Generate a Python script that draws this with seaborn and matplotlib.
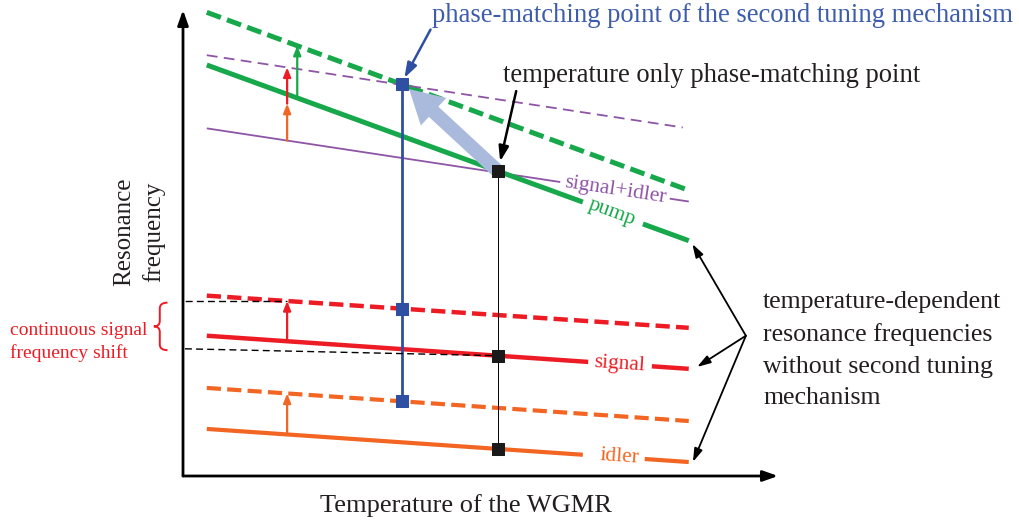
import numpy as np
import pandas as pd
import matplotlib
matplotlib.use("Agg")
import matplotlib.pyplot as plt
from matplotlib.patches import FancyArrowPatch, PathPatch
from matplotlib.path import Path
import seaborn as sns

# Schematic data (arbitrary units: temperature 0-100, frequency 0-100)
T_range = [4.0, 85.0]
pump = [88.2, 50.5]
pump_tuned = [99.5, 61.3]
sum_si = [74.6, 58.9]
sum_si_tuned = [90.3, 74.6]
signal = [30.1, 23.0]
signal_tuned = [38.7, 31.8]
idler = [10.1, 3.0]
idler_tuned = [18.9, 11.8]

T_tuned_pm = 36.8     # phase-matching temperature with second tuning
T_only_pm = 52.9      # temperature only phase-matching point
T_shift = 17.5        # where the shift arrows are drawn
T_shift_pump = 19.2

line_labels = ["signal+idler", "pump", "signal", "idler"]
label_T = [72.6, 72.1, 73.3, 73.3]
label_gap = [(63.4, 81.8), (67.2, 77.3), (68.1, 78.8), (67.2, 77.6)]

green = "#17a84b"
purple = "#8e55a6"
red = "#ed1c24"
orange = "#f26522"
blue = "#2e4fa2"
blue_text = "#3d5dab"
light_blue = "#a9badd"
ink = "#231f20"

sns.set_style("white")
plt.rcParams["font.family"] = ["Liberation Serif", "DejaVu Serif"]

fig = plt.figure(figsize=(10.19, 5.25), dpi=100)
ax = fig.add_axes([183 / 1019, 49 / 525, 595 / 1019, 466 / 525])
ax.set_xlim(0, 100)
ax.set_ylim(0, 100)
ax.axis("off")


def at(line, t):
    return np.interp(t, T_range, line)


def seg(x, y, **kw):
    sns.lineplot(x=x, y=y, ax=ax, estimator=None, sort=False, **kw)


# dashed (shifted) resonance lines
dashed = [
    (pump_tuned, T_range[1], green, 3.6, (0, (3.0, 1.3))),
    (sum_si_tuned, 84.0, purple, 1.3, (0, (6, 3.5))),
    (signal_tuned, T_range[1], red, 3.2, (0, (3.2, 1.4))),
    (idler_tuned, T_range[1], orange, 3.0, (0, (3.4, 1.5))),
]
for vals, t_end, col, lw, ls in dashed:
    df = pd.DataFrame({"T": [T_range[0], t_end], "f": [vals[0], at(vals, t_end)]})
    sns.lineplot(data=df, x="T", y="f", ax=ax, estimator=None, color=col, lw=lw, ls=ls,
                 dash_capstyle="butt")

# solid resonance lines, broken where the label sits
solid = [(sum_si, purple, 1.3), (pump, green, 3.6), (signal, red, 3.2), (idler, orange, 3.0)]
for (vals, col, lw), (g0, g1) in zip(solid, label_gap):
    for t0, t1 in [(T_range[0], g0), (g1, T_range[1])]:
        seg([t0, t1], [at(vals, t0), at(vals, t1)], color=col, lw=lw, solid_capstyle="butt")

# vertical guides through phase-matching points
tuned_lines = [pump_tuned, signal_tuned, idler_tuned]
only_lines = [pump, signal, idler]
yt = [at(l, T_tuned_pm) for l in tuned_lines]
yo = [at(l, T_only_pm) for l in only_lines]
seg([T_tuned_pm, T_tuned_pm], [max(yt), min(yt)], color=blue, lw=2.0)
seg([T_only_pm, T_only_pm], [max(yo), min(yo)], color="black", lw=0.7)

# black dashed helper lines for the signal shift
seg([-3.4, T_shift], [at(signal_tuned, T_shift)] * 2, color="black", lw=1.0, ls=(0, (5, 3)))
seg([-3.4, T_only_pm], [27.4, at(signal, T_only_pm)], color="black", lw=1.0, ls=(0, (5, 3)))

# light blue move arrow
p0 = (T_only_pm, at(pump, T_only_pm))
p1 = (T_tuned_pm + 1.2, at(pump_tuned, T_tuned_pm) - 1.0)
ax.add_patch(FancyArrowPatch(p0, p1, arrowstyle="simple,head_length=2.4,head_width=2.7,tail_width=1.0",
                             mutation_scale=10, color=light_blue, lw=0, zorder=3,
                             shrinkA=0, shrinkB=0))

# phase-matching squares
sns.scatterplot(x=[T_tuned_pm] * 3, y=yt, ax=ax, marker="s", s=85, color=blue,
                edgecolor=blue, zorder=5)
sns.scatterplot(x=[T_only_pm] * 3, y=yo, ax=ax, marker="s", s=85, color="#1a1a1a",
                edgecolor="#1a1a1a", zorder=5)


def shift_arrow(t, y0, y1, col):
    ax.annotate("", xy=(t, y1), xytext=(t, y0),
                arrowprops=dict(arrowstyle="-|>,head_length=0.55,head_width=0.22",
                                color=col, lw=1.6, shrinkA=0, shrinkB=0))


# shift arrows
d_idler = at(idler_tuned, T_shift) - at(idler, T_shift)
d_signal = at(signal_tuned, T_shift) - at(signal, T_shift)
s0 = at(sum_si, T_shift)
s1 = at(sum_si_tuned, T_shift)
s_mid = s0 + (s1 - s0) * d_idler / (d_idler + d_signal)
shift_arrow(T_shift, s0, s_mid, orange)
shift_arrow(T_shift, s_mid, s1, red)
shift_arrow(T_shift_pump, at(pump, T_shift_pump), at(pump_tuned, T_shift_pump), green)
shift_arrow(T_shift, at(signal, T_shift), at(signal_tuned, T_shift), red)
shift_arrow(T_shift, at(idler, T_shift), at(idler_tuned, T_shift), orange)

# line labels rotated along the lines
fig.canvas.draw()
for lab, t, (vals, col, _) in zip(line_labels, label_T, solid):
    a = np.array(ax.transData.transform([(T_range[0], vals[0]), (T_range[1], vals[1])]))
    ang = np.degrees(np.arctan2(a[1, 1] - a[0, 1], a[1, 0] - a[0, 0]))
    ax.text(t, at(vals, t), lab, color=col, fontsize=15.5, rotation=ang,
            rotation_mode="anchor", ha="center", va="center", zorder=6)

# axes with arrows
for end in [(0, 1), (1, 0)]:
    ax.annotate("", xy=end, xytext=(0, 0), xycoords="axes fraction",
                arrowprops=dict(arrowstyle="-|>,head_length=0.9,head_width=0.32", color="black",
                                lw=2, shrinkA=0, shrinkB=0), annotation_clip=False)

ax.text(-7.4, 52.5, "Resonance\nfrequency", rotation=90, ha="center", va="center",
        fontsize=18, linespacing=1.38, color=ink)
ax.text(47.5, -6.4, "Temperature of the WGMR", ha="center", va="center",
        fontsize=19, color=ink)

pointer = "-|>,head_length=0.9,head_width=0.3"
ax.text(41.8, 98.8, "phase-matching point of the second tuning mechanism", color=blue_text,
        fontsize=19.2, ha="left", va="center")
ax.annotate("", xy=(37.2, 85.4), xytext=(41.6, 95.8),
            arrowprops=dict(arrowstyle=pointer, color=blue, lw=1.8, shrinkA=0, shrinkB=0),
            annotation_clip=False)

ax.text(53.8, 86.0, "temperature only phase-matching point", color=ink,
        fontsize=19.2, ha="left", va="center")
ax.annotate("", xy=(53.3, 67.5), xytext=(56.0, 82.6),
            arrowprops=dict(arrowstyle=pointer, color="black", lw=1.8, shrinkA=0, shrinkB=0),
            annotation_clip=False)

ax.text(97.5, 27.0, "temperature-dependent\nresonance frequencies\nwithout second tuning\nmechanism",
        color=ink, fontsize=18.6, ha="left", va="center", linespacing=1.56)
for end in [(85.6, 49.8), (86.4, 23.4), (85.7, 3.0)]:
    ax.annotate("", xy=end, xytext=(94.6, 30.1),
                arrowprops=dict(arrowstyle="-|>,head_length=0.8,head_width=0.25", color="black",
                                lw=1.3, shrinkA=0, shrinkB=0), annotation_clip=False)

ax.text(-29.1, 28.8, "continuous signal\nfrequency shift", color=red, fontsize=14,
        ha="left", va="center", linespacing=1.35)

# curly brace drawn as a path
bx_arm, bx_mid, bx_tip = -2.6, -3.9, -4.9
b_top, b_bot = 37.2, 27.0
b_c = (b_top + b_bot) / 2
verts = [(bx_arm, b_top), (bx_mid, b_top), (bx_mid, b_top - 1.2),
         (bx_mid, b_c + 1.2),
         (bx_mid, b_c), (bx_tip, b_c),
         (bx_mid, b_c), (bx_mid, b_c - 1.2),
         (bx_mid, b_bot + 1.2),
         (bx_mid, b_bot), (bx_arm, b_bot)]
codes = [Path.MOVETO, Path.CURVE3, Path.CURVE3, Path.LINETO, Path.CURVE3, Path.CURVE3,
         Path.CURVE3, Path.CURVE3, Path.LINETO, Path.CURVE3, Path.CURVE3]
ax.add_patch(PathPatch(Path(verts, codes), facecolor="none", edgecolor=red, lw=1.4,
                       clip_on=False))

fig.savefig("out.png", dpi=100)
